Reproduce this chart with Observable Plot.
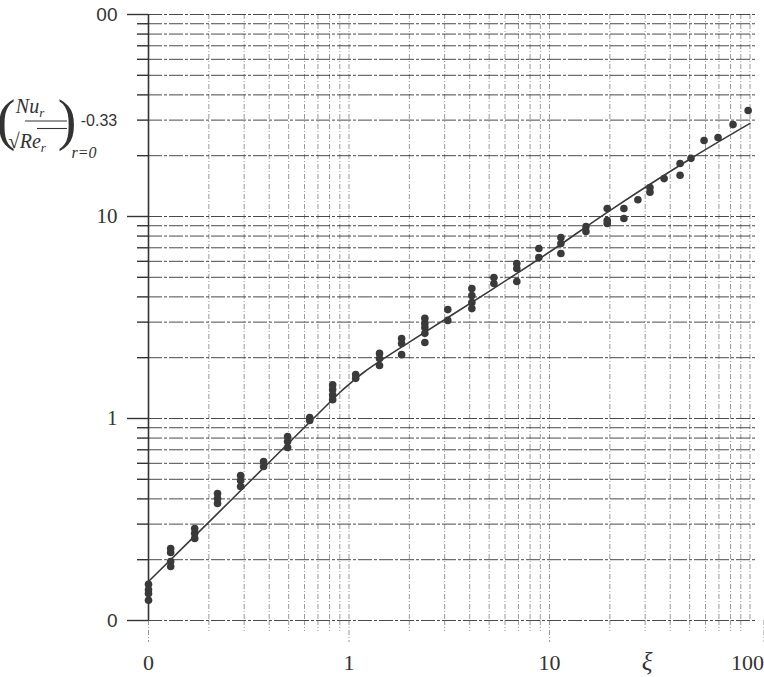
<!DOCTYPE html>
<html>
<head>
<meta charset="utf-8">
<script src="https://cdn.jsdelivr.net/npm/d3@7"></script>
<script src="https://cdn.jsdelivr.net/npm/@observablehq/plot@0.6"></script>
<style>
  html, body { margin: 0; padding: 0; background: #fff; }
  #chart { width: 764px; height: 677px; }
</style>
</head>
<body>
<div id="chart"></div>
<script>
// ---- tick values and labels ----
const xMajor = [0.1, 1, 10];
const xMajorLabels = ["0", "1", "10"];
const xLast = [100];
const xLastLabels = ["100"];
const yMajorSerif = [1, 10];
const yMajorSerifLabels = ["1", "10"];
const yMajorSans = [0.1, 100];
const yMajorSansLabels = ["0", "00"];
const minorTicks = [0.2, 0.3, 0.4, 0.5, 0.6, 0.7, 0.8, 0.9,
                    2, 3, 4, 5, 6, 7, 8, 9,
                    20, 30, 40, 50, 60, 70, 80, 90];

// ---- measured points: xi and (Nu_r / sqrt(Re_r)) ----
const pointXi = [
  0.1, 0.1, 0.1, 0.1,
  0.129, 0.129, 0.129, 0.129,
  0.170, 0.170, 0.170,
  0.221, 0.221, 0.221,
  0.288, 0.288, 0.288,
  0.375, 0.375,
  0.494, 0.494, 0.494,
  0.637, 0.637,
  0.829, 0.829, 0.829, 0.829,
  1.08, 1.08,
  1.42, 1.42, 1.42,
  1.83, 1.83, 1.83,
  2.39, 2.39, 2.39, 2.39, 2.39,
  3.11, 3.11,
  4.10, 4.10, 4.10, 4.10,
  5.28, 5.28,
  6.87, 6.87, 6.87,
  8.85, 8.85,
  11.4, 11.4, 11.4,
  15.2, 15.2,
  19.4, 19.4, 19.4,
  23.5, 23.5,
  27.6,
  31.7, 31.7,
  37.3,
  44.8, 44.8,
  50.8,
  59.0,
  69.3,
  82.3,
  97.9
];
const pointNu = [
  0.151, 0.142, 0.136, 0.126,
  0.227, 0.217, 0.196, 0.185,
  0.285, 0.270, 0.255,
  0.425, 0.402, 0.380,
  0.522, 0.493, 0.461,
  0.613, 0.579,
  0.815, 0.769, 0.719,
  1.01, 0.977,
  1.47, 1.39, 1.31, 1.24,
  1.65, 1.58,
  2.10, 1.98, 1.83,
  2.49, 2.35, 2.07,
  3.13, 2.95, 2.82, 2.64, 2.38,
  3.46, 3.06,
  4.40, 4.06, 3.75, 3.50,
  4.99, 4.66,
  5.85, 5.53, 4.77,
  6.94, 6.27,
  7.87, 7.35, 6.56,
  8.92, 8.43,
  10.95, 9.55, 9.23,
  10.95, 9.77,
  12.1,
  13.9, 13.2,
  15.4,
  18.3, 16.0,
  19.4,
  23.8,
  24.6,
  28.5,
  33.5
];

// ---- correlation curve ----
const curveXi = [0.1, 0.2, 0.5, 0.8, 0.9, 1.0, 1.2, 2, 5, 10, 20, 50, 100];
const curveNu = [0.156, 0.307, 0.756, 1.20, 1.345, 1.474, 1.709, 2.39, 4.26, 6.67, 10.7, 19.2, 28.9];

const points = pointXi.map((x, i) => ({xi: x, nu: pointNu[i]}));
const curve = curveXi.map((x, i) => ({xi: x, nu: curveNu[i]}));

const xLab = new Map(xMajor.map((v, i) => [v, xMajorLabels[i]]));
const xLastLab = new Map(xLast.map((v, i) => [v, xLastLabels[i]]));
const yLabSerif = new Map(yMajorSerif.map((v, i) => [v, yMajorSerifLabels[i]]));
const yLabSans = new Map(yMajorSans.map((v, i) => [v, yMajorSansLabels[i]]));

const vGrid = {stroke: "#555", strokeOpacity: 0.6, strokeWidth: 1, strokeDasharray: "5,2,1,2"};
const hGrid = {stroke: "#2a2a2a", strokeOpacity: 0.85, strokeWidth: 1, strokeDasharray: "14,2,3,2"};

const chart = Plot.plot({
  width: 764,
  height: 677,
  marginLeft: 148,
  marginRight: 7,
  marginTop: 14,
  marginBottom: 57,
  x: {type: "log", domain: [0.1, 109], axis: null},
  y: {type: "log", domain: [0.1, 100], axis: null},
  style: {background: "#fff", fontFamily: "'Liberation Serif', serif", color: "#333"},
  marks: [
    Plot.gridX(minorTicks.concat(xMajor, xLast), vGrid),
    Plot.gridY(minorTicks.concat(yMajorSerif, yMajorSans), hGrid),
    Plot.axisX(minorTicks, {...vGrid, tickSize: 11, fill: "none", label: null}),
    Plot.axisX(xMajor, {...vGrid, tickSize: 22, tickPadding: 12, fill: "#333", fontSize: 22,
      tickFormat: d => xLab.get(d), label: null}),
    Plot.axisX(xLast, {...vGrid, tickSize: 22, tickPadding: 12, fill: "#333", fontSize: 22,
      textAnchor: "end", dx: 14, tickFormat: d => xLastLab.get(d), label: null}),
    Plot.axisY(minorTicks, {stroke: "#333", strokeWidth: 1.4, tickSize: 11, fill: "none", label: null}),
    Plot.axisY(yMajorSerif, {stroke: "#333", strokeWidth: 1.4, tickSize: 21, tickPadding: 10,
      fill: "#333", fontSize: 21, tickFormat: d => yLabSerif.get(d), label: null}),
    Plot.axisY(yMajorSans, {stroke: "#333", strokeWidth: 1.4, tickSize: 21, tickPadding: 10,
      fill: "#333", fontSize: 19, fontFamily: "'Liberation Sans', sans-serif",
      tickFormat: d => yLabSans.get(d), label: null}),
    Plot.ruleX([0.1], {stroke: "#333", strokeWidth: 1.6}),
    Plot.line(curve, {x: "xi", y: "nu", stroke: "#3a3a3a", strokeWidth: 1.6, curve: "catmull-rom"}),
    Plot.dot(points, {x: "xi", y: "nu", r: 3.8, fill: "#3a3a3a", stroke: "none"})
  ]
});

document.getElementById("chart").appendChild(chart);

// ---- axis titles ----
const svg = d3.select(chart);
const t = svg.append("g").attr("fill", "#333").attr("font-family", "'Liberation Serif', serif");
t.append("text").attr("x", 6).attr("y", 139).attr("font-size", 56).text("(");
const nu = t.append("text").attr("x", 30).attr("y", 113).attr("font-size", 20).attr("font-style", "italic");
nu.append("tspan").text("Nu");
nu.append("tspan").attr("font-size", 13).attr("dy", 4).text("r");
t.append("line").attr("x1", 25).attr("x2", 67).attr("y1", 121).attr("y2", 121)
  .attr("stroke", "#333").attr("stroke-width", 1.2);
const re = t.append("text").attr("x", 27).attr("y", 148).attr("font-size", 20);
re.append("tspan").attr("font-size", 21).text("√");
re.append("tspan").attr("font-style", "italic").text("Re");
re.append("tspan").attr("font-style", "italic").attr("font-size", 13).attr("dy", 4).text("r");
t.append("line").attr("x1", 37).attr("x2", 67).attr("y1", 128.5).attr("y2", 128.5)
  .attr("stroke", "#333").attr("stroke-width", 1.1);
t.append("text").attr("x", 67).attr("y", 139).attr("font-size", 56).text(")");
t.append("text").attr("x", 84).attr("y", 158).attr("font-size", 16).attr("font-style", "italic").text("r=0");
t.append("text").attr("x", 99).attr("y", 126).attr("font-size", 16)
  .attr("font-family", "'Liberation Sans', sans-serif").text("-0.33");
t.append("text").attr("x", 647).attr("y", 670).attr("font-size", 25).attr("font-style", "italic")
  .attr("text-anchor", "middle").text("ξ");
</script>
</body>
</html>
